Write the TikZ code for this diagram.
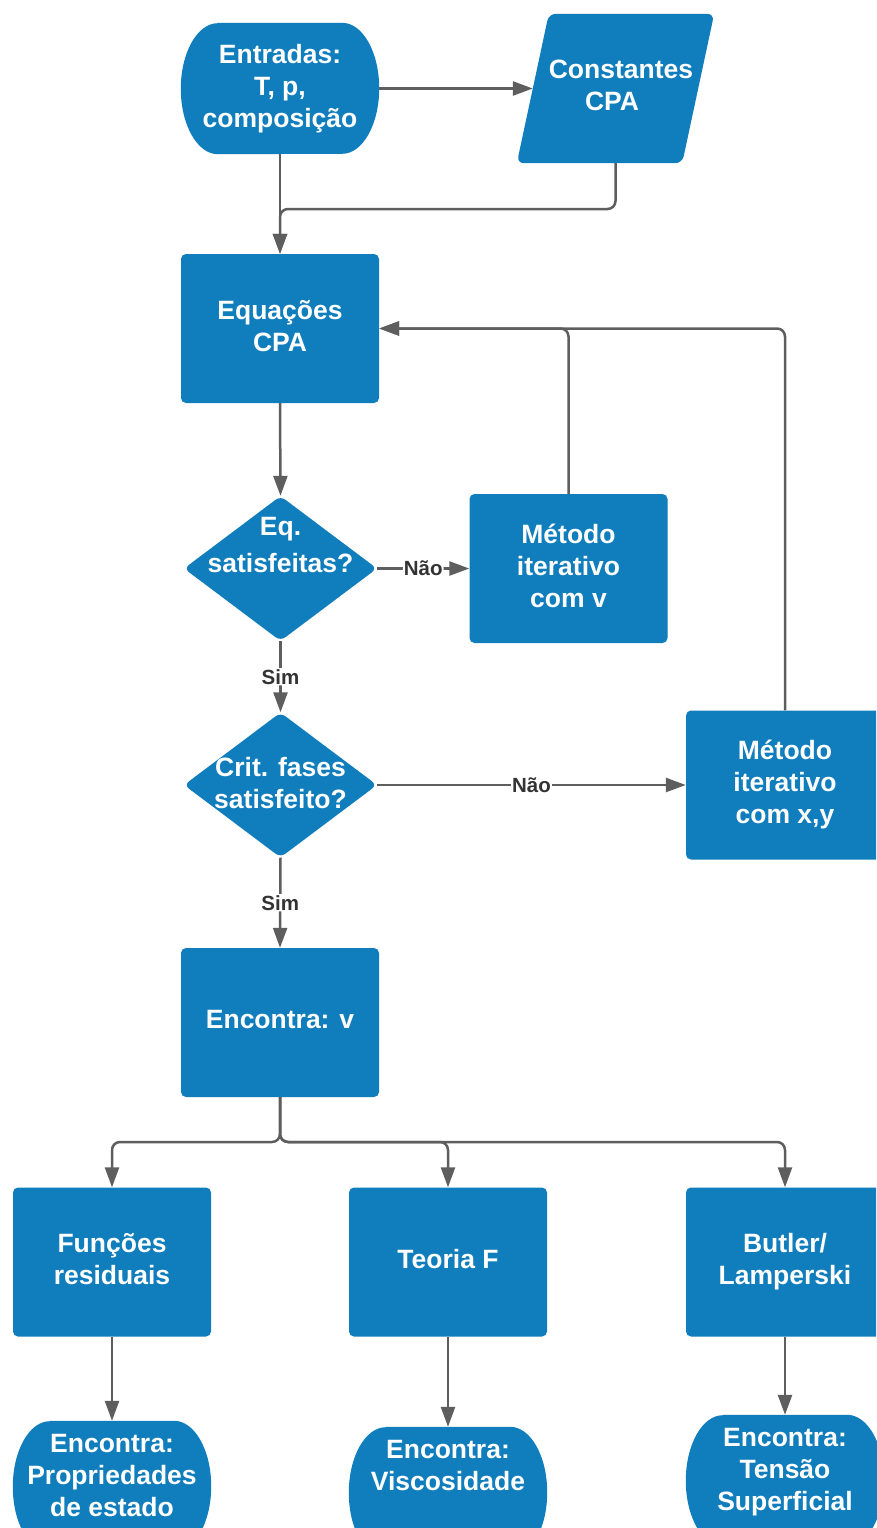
\documentclass[tikz,border=0pt]{standalone}
\usepackage{fontspec}
\setmainfont{Liberation Sans}
\usetikzlibrary{shapes.geometric,arrows.meta,calc}
\definecolor{boxblue}{HTML}{107DBC}
\definecolor{linegray}{HTML}{5E5E5E}
\definecolor{labelgray}{HTML}{333333}
\pgfdeclarelayer{bg}
\pgfsetlayers{bg,main}
\newcommand\lastdepth{\rule[-6pt]{0pt}{0pt}}
\tikzset{
  boxtext/.style={text=white, font=\bfseries\fontsize{26.5}{32}\selectfont, align=center, inner sep=0pt, execute at end node=\lastdepth},
  procbox/.style={boxtext, rectangle, rounded corners=5pt, fill=boxblue, minimum width=198pt, minimum height=149pt},
  decbox/.style={diamond, fill=boxblue, rounded corners=6pt, minimum width=193pt, minimum height=145pt, inner sep=0pt},
  termbox/.style={rectangle, minimum width=198pt, minimum height=131pt, inner sep=0pt},
  conn/.style={draw=linegray, line width=2.5pt, -{Triangle[length=20pt,width=14pt]}, rounded corners=8pt},
  edgelabel/.style={fill=white, text=labelgray, font=\bfseries\fontsize{20.5}{24}\selectfont, inner sep=1pt},
}
\newcommand\termfill[1]{%
  \fill[boxblue] ([xshift=37pt]#1.north west) -- ([xshift=-37pt]#1.north east)
    arc[start angle=90,end angle=-90,x radius=37pt,y radius=65.5pt]
    -- ([xshift=37pt]#1.south west)
    arc[start angle=270,end angle=90,x radius=37pt,y radius=65.5pt] -- cycle;}
\begin{document}
\begin{tikzpicture}[x=1pt,y=-1pt]
\useasboundingbox (0,0) rectangle (876,1528);
\begin{pgfonlayer}{bg}
  \fill[white] (0,0) rectangle (876,1528);
\end{pgfonlayer}
\clip (0,0) rectangle (876,1528);

% nodes
\node[termbox, boxtext] (ent) at (280,88.5) {Entradas:\\T, p,\\composição};
\node[boxtext, minimum width=197pt, minimum height=149pt] (cons) at (615.5,88.5) {\hspace*{11pt}Constantes\\CPA\hspace*{7pt}};
\node[procbox] (eq) at (280,328.5) {Equações\\CPA};
\node[decbox] (d1) at (280.5,568.5) {};
\node[boxtext, font=\bfseries\fontsize{26.5}{37.5}\selectfont] (d1t) at (280.5,548) {Eq.\\satisfeitas?};
\node[procbox] (it1) at (568.5,568.5) {Método\\iterativo\\com v};
\node[decbox] (d2) at (280.5,785) {};
\node[boxtext] (d2t) at (280.5,785.5) {Crit. fases\\satisfeito?};
\node[procbox] (it2) at (785,785) {Método\\iterativo\\com x,y};
\node[procbox] (enc) at (280,1022.5) {Encontra: v};
\node[procbox] (fr) at (112,1262) {Funções\\residuais};
\node[procbox] (tf) at (448,1262) {Teoria F};
\node[procbox] (bl) at (785,1262) {Butler/\\Lamperski};
\node[termbox] (p1) at (112,1486.5) {};
\node[termbox] (p2) at (448,1492.5) {};
\node[termbox] (p3) at (785,1480.5) {};
\node[boxtext] (p1t) at (112,1478) {Encontra:\\Propriedades\\de estado};
\node[boxtext] (p2t) at (448,1468) {Encontra:\\Viscosidade};
\node[boxtext] (p3t) at (785,1472) {Encontra:\\Tensão\\Superficial};

\begin{pgfonlayer}{bg}
  \termfill{ent}
  \termfill{p1}
  \termfill{p2}
  \termfill{p3}
  \fill[boxblue, rounded corners=7pt] ([xshift=32pt]cons.north west) -- (cons.north east)
    -- ([xshift=-32pt]cons.south east) -- (cons.south west) -- cycle;
\end{pgfonlayer}

% connectors
\draw[conn] (ent.east) -- ([xshift=16pt]cons.west);
\draw[conn] (ent.south) -- (eq.north);
\draw[conn] (cons.south) |- (280,209) -- (eq.north);
\draw[conn] (eq.south) -- (d1.north);
\draw[conn] (d1.east) -- node[edgelabel]{Não} (it1.west);
\draw[conn] (it1.north) |- (eq.east);
\draw[conn] (it2.north) |- (eq.east);
\draw[conn] (d1.south) -- node[edgelabel]{Sim} (d2.north);
\draw[conn] (d2.east) -- node[edgelabel]{Não} (it2.west);
\draw[conn] (d2.south) -- node[edgelabel]{Sim} (enc.north);
\draw[conn] (enc.south) -- (280,1142) -| (fr.north);
\draw[conn] (enc.south) -- (280,1142) -| (tf.north);
\draw[conn] (enc.south) -- (280,1142) -| (bl.north);
\draw[conn] (fr.south) -- (p1.north);
\draw[conn] (tf.south) -- (p2.north);
\draw[conn] (bl.south) -- (p3.north);
\end{tikzpicture}
\end{document}
